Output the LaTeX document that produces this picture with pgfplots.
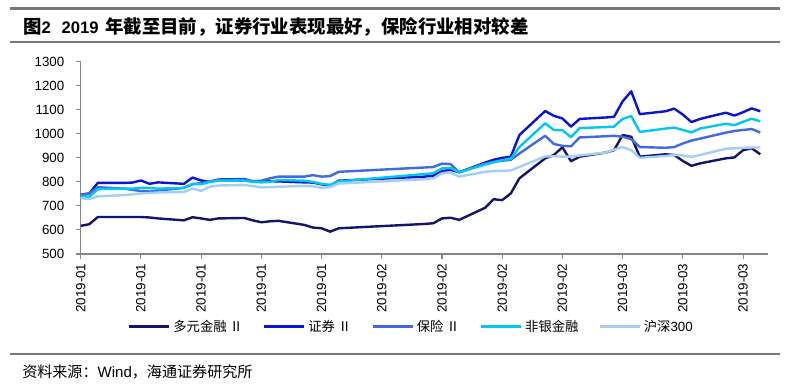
\documentclass[border=0pt]{standalone}
\usepackage{fontspec}
\setmainfont{Liberation Sans}
\newfontfamily\cjk{Noto Sans CJK SC}
\usepackage{pgfplots}
\pgfplotsset{compat=1.18}
\usepackage{pgfplotstable}

\definecolor{cduo}{RGB}{20,20,110}
\definecolor{czq}{RGB}{10,20,210}
\definecolor{cbx}{RGB}{65,105,225}
\definecolor{cfy}{RGB}{0,200,240}
\definecolor{chs}{RGB}{165,205,245}
\definecolor{axisgray}{RGB}{134,134,134}
\definecolor{rulegray}{RGB}{120,120,120}

\pgfplotstableread{
d duo zq bx fy hs
2 617 745 748 740 732
3 624 752 752 738 729
4 654 796 778 770 740
7 654 796 772 772 745
8 654 797 767 772 748
9 654 806 762 775 752
10 652 792 760 775 754
11 648 798 764 772 756
14 640 792 775 775 758
15 653 818 790 792 772
16 648 806 795 790 763
17 642 800 802 800 780
18 648 810 808 805 785
21 650 812 810 805 787
22 640 802 803 800 783
23 632 803 805 798 777
24 636 803 815 800 778
25 638 802 822 808 780
28 621 798 822 805 783
29 610 797 828 800 782
30 607 790 822 792 775
31 593 784 824 788 778
32 607 805 842 802 793
42 625 822 860 833 811
43 628 826 862 836 815
44 648 846 876 856 836
45 651 850 874 858 838
46 642 840 840 840 822
49 692 880 876 872 842
50 728 892 883 882 845
51 724 900 888 890 846
52 752 905 892 896 848
53 815 995 918 945 862
56 898 1095 992 1044 906
57 912 1075 958 1016 907
58 944 1064 950 1015 905
59 886 1030 948 986 905
60 905 1062 985 1024 910
63 922 1068 990 1028 922
64 932 1071 992 1030 934
65 995 1135 988 1062 945
66 988 1177 978 1074 932
67 905 1082 945 1008 900
70 915 1094 942 1022 908
71 912 1105 945 1026 912
72 887 1080 960 1016 910
73 867 1049 972 1006 904
74 877 1062 980 1022 912
77 898 1088 1005 1042 938
78 902 1076 1012 1036 940
79 932 1090 1016 1050 942
80 940 1106 1020 1063 943
81 915 1094 1006 1052 943
}\data

\begin{document}
\begin{tikzpicture}
\path[use as bounding box, fill=white] (0pt,0pt) rectangle (592.5pt,288.75pt);
\draw[line width=1.6pt, rulegray] (7.5pt,282.4pt) -- (585pt,282.4pt);
\node[anchor=west, inner sep=0pt] at (17.25pt,268.5pt) {{\cjk\bfseries\fontsize{13.8}{15}\selectfont 图}{\bfseries\fontsize{12.5}{15}\selectfont 2\hspace{8pt}2019\hspace{5pt}}{\cjk\bfseries\fontsize{13.8}{15}\selectfont 年截至目前，证券行业表现最好，保险行业相对较差}};
\draw[line width=1.5pt, rulegray] (7.5pt,256.9pt) -- (585pt,256.9pt);
\begin{axis}[
  at={(60.5pt,98.25pt)}, anchor=south west,
  scale only axis, width=515.5pt, height=144.2pt,
  xmin=2, xmax=81.9, ymin=500, ymax=1300,
  axis x line=bottom, axis y line=left,
  axis line style={draw=axisgray, line width=0.8pt, -},
  xtick={2,9,16,23,30,37,44,51,58,65,72,79},
  xticklabels={2019-01,2019-01,2019-01,2019-01,2019-01,2019-02,2019-02,2019-02,2019-02,2019-03,2019-03,2019-03},
  x tick label style={rotate=90, anchor=east},
  yticklabel style={xshift=-5pt},
  ytick={500,600,...,1300},
  tick align=outside, major tick length=3.75pt,
  tick style={draw=axisgray, line width=0.8pt},
  ticklabel style={font=\fontsize{10}{12}\selectfont},
  /pgf/number format/assume math mode=true,
  /pgf/number format/1000 sep={},
  scaled y ticks=false,
  legend columns=5,
  legend style={draw=none, fill=none, inner sep=0pt, outer sep=0pt,
    at={(0.0688,-0.378)}, anchor=west,
    nodes={inner sep=0pt},
    font=\fontsize{10}{12}\selectfont,
    /tikz/every odd column/.append style={column sep=2.25pt},
    /tikz/every even column/.append style={column sep=15pt}},
  legend image code/.code={\draw[#1] (0pt,0pt) -- (30pt,0pt);},
  every axis plot/.append style={line width=1.8pt, line join=round},
]
\addplot[cduo] table[x=d,y=duo] {\data};
\addplot[czq] table[x=d,y=zq] {\data};
\addplot[cbx] table[x=d,y=bx] {\data};
\addplot[cfy] table[x=d,y=fy] {\data};
\addplot[chs] table[x=d,y=hs] {\data};
\legend{{\cjk 多元金融 Ⅱ},{\cjk 证券 Ⅱ},{\cjk 保险 Ⅱ},{\cjk 非银金融},{\cjk 沪深}300}
\end{axis}
\draw[line width=1.5pt, rulegray] (7.5pt,23.25pt) -- (585pt,23.25pt);
\node[anchor=west, inner sep=0pt] at (16.5pt,9.75pt) {\fontsize{11.3}{13}\selectfont{\cjk 资料来源：}Wind{\cjk ，海通证券研究所}};
\end{tikzpicture}
\end{document}
